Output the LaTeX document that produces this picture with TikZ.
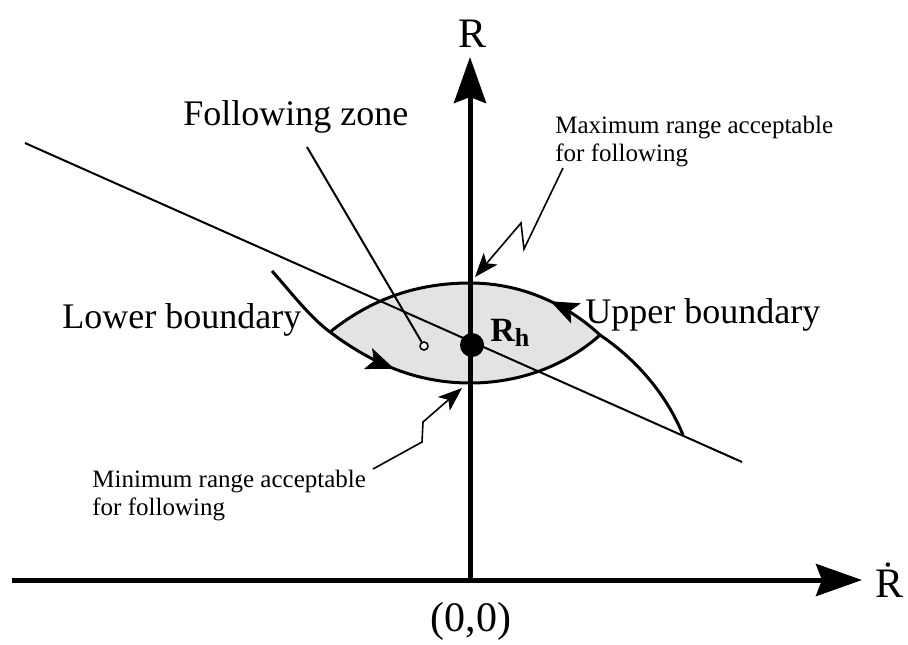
\documentclass[tikz,border=0pt]{standalone}
\usepackage{fontspec}
\setmainfont{Liberation Serif}
\usetikzlibrary{arrows.meta,decorations.markings}
\tikzset{
  axis/.style={line width=2.5pt,-{Stealth[length=23pt,width=16pt,inset=3pt]}},
  bound/.style={line width=1.5pt},
  bolt/.style={line width=0.8pt,-{Stealth[length=12pt,width=9pt,inset=3pt]}},
  big/.style={font=\fontsize{18}{20}\selectfont,inner sep=0pt},
  axlbl/.style={font=\fontsize{21}{23}\selectfont,inner sep=0pt},
  small/.style={font=\fontsize{12.5}{14}\selectfont,inner sep=0pt,align=left},
  midarrow/.style={postaction={decorate},decoration={markings,
    mark=at position #1 with {\arrow{Stealth[length=14pt,width=11pt,inset=3pt]}}}}
}
\begin{document}
\begin{tikzpicture}[x=0.5pt,y=-0.5pt]
\useasboundingbox (0,0) rectangle (908,644);
\fill[gray!22] (330,332) .. controls (370,300) and (415,283) .. (470,283)
  .. controls (525,283) and (570,307) .. (600,335)
  .. controls (570,362) and (525,383) .. (470,383)
  .. controls (420,383) and (375,366) .. (330,332) -- cycle;

\coordinate (xs) at (12,580);
\coordinate (xe) at (862,580);
\coordinate (ys) at (470,583);
\coordinate (ye) at (470,57);
\draw[axis] (xs) -- (xe);
\draw[axis] (ys) -- (ye);
\node[axlbl,anchor=base] (rlbl) at (472,47) {R};
\node[axlbl,anchor=base west] (rdlbl) at (875,597) {\.{R}};
\node[axlbl,anchor=base] (olbl) at (471,631) {(0,0)};

\coordinate (ls) at (25,143);
\coordinate (le) at (742,462);
\draw[line width=1pt] (ls) -- (le);

\draw[bound,midarrow=0.45] (683,435) .. controls (668,398) and (640,362) .. (600,335)
  .. controls (570,307) and (525,283) .. (470,283)
  .. controls (415,283) and (370,300) .. (330,332);
\draw[bound,midarrow=0.42] (272,271) .. controls (295,297) and (310,317) .. (330,332)
  .. controls (375,366) and (420,383) .. (470,383)
  .. controls (525,383) and (570,362) .. (600,335);

\node[circle,fill,inner sep=0pt,minimum size=12pt] (rh) at (472,345) {};
\node[circle,draw,line width=0.8pt,fill=white,inner sep=0pt,minimum size=4pt] (pt) at (424,346) {};
\node[anchor=base west,inner sep=0pt,font=\fontsize{17}{19}\selectfont\bfseries] (rhlbl) at (490,341) {R\raisebox{-0.35ex}{\fontsize{13}{15}\selectfont h}};

\node[big,anchor=base west] (zone) at (183,125) {Following zone};
\coordinate (zs) at (307,147);
\draw[line width=1pt] (zs) -- (pt);

\node[big,anchor=base west] (lower) at (62,328) {Lower boundary};
\node[big,anchor=base west] (upper) at (585,323) {Upper boundary};

\node[small,anchor=north west] (maxlbl) at (555,116) {Maximum range acceptable\\for following};
\node[small,anchor=north west] (minlbl) at (92,470) {Minimum range acceptable\\for following};
\coordinate (maxs) at (563,168);
\coordinate (maxt) at (475,277);
\coordinate (mins) at (373,469);
\coordinate (mint) at (462,388);
\draw[bolt] (maxs) -- (524,249) -- (521,223) -- (maxt);
\draw[bolt] (mins) -- (422,442) -- (423,422) -- (mint);
\end{tikzpicture}
\end{document}
